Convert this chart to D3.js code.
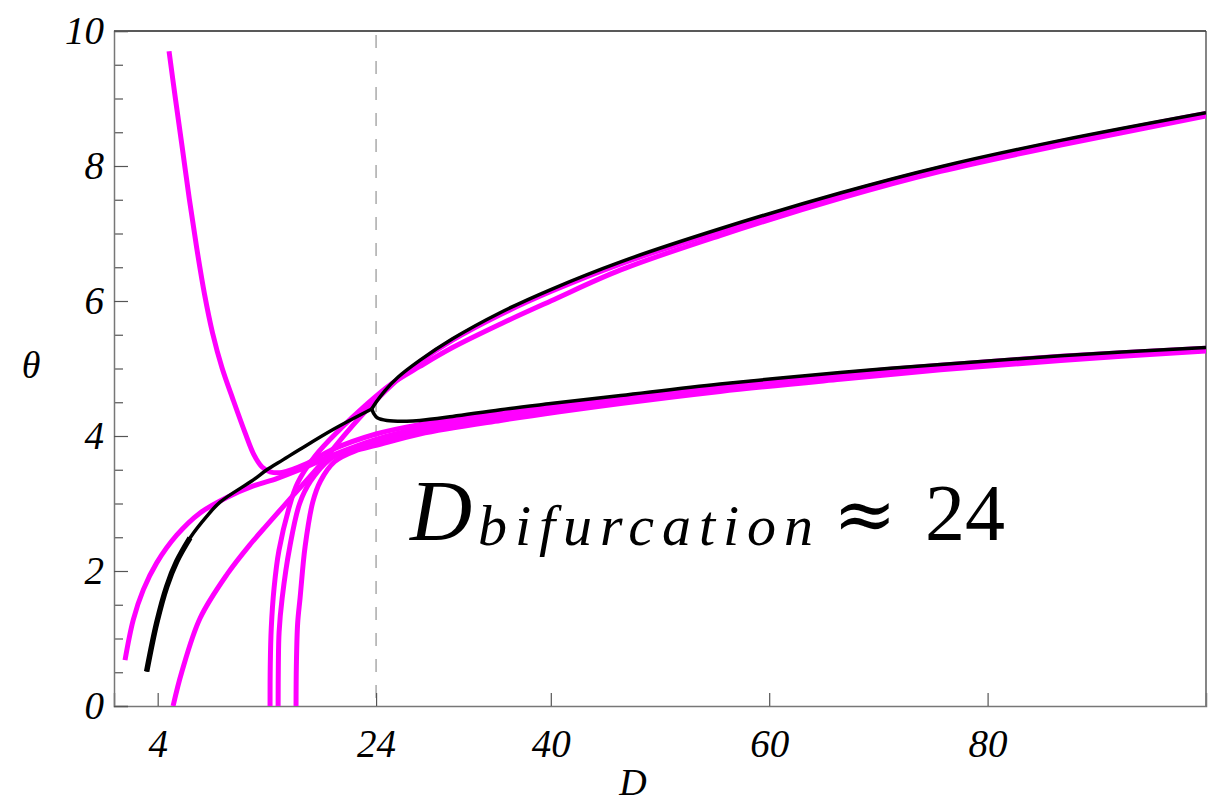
<!DOCTYPE html>
<html>
<head>
<meta charset="utf-8">
<script src="https://cdn.jsdelivr.net/npm/d3@7"></script>
<style>
body{margin:0;background:#fff;}
.axis .tick text{font-family:"Liberation Serif",serif;font-style:italic;font-size:39px;fill:#000;}
.axis .tick line{stroke:#555;stroke-width:1.2;}
.axis .domain{stroke:#777;stroke-width:1.5;}
.title{font-family:"Liberation Serif",serif;font-style:italic;font-size:38px;}
.magenta{fill:none;stroke:#ff00ff;stroke-width:5;stroke-linejoin:round;}
.black{fill:none;stroke:#000;stroke-width:3.5;stroke-linejoin:round;}
</style>
</head>
<body>
<script>
const WIDTH = 1216
const HEIGHT = 804
const MARGIN = {left:114, right:10, top:31, bottom:98}

const xTicks = [4, 24, 40, 60, 80]
const yTicks = [0, 2, 4, 6, 8, 10]
const bifurcationD = 24

// black solution: stem up to the cusp, then two branches
const blackStem = [[2.99,0.51],[3.91,1.23],[4.83,1.77],[5.74,2.14],[6.96,2.49],[8.49,2.81],[9.71,3.02],[12.76,3.35],[14,3.50],[15.5,3.65],[17,3.80],[20.1,4.10],[23.6,4.40]]
const blackUpper = [[23.6,4.40],[24.0,4.50],[24.8,4.67],[26.0,4.87],[28.0,5.12],[31,5.44],[35.4,5.83],[40,6.17],[46.4,6.58],[55.5,7.07],[66.5,7.60],[75.7,7.99],[86.7,8.38],[100,8.79]]
const blackLower = [[23.6,4.40],[23.8,4.33],[24.1,4.27],[25.0,4.23],[26.8,4.22],[28.0,4.23],[31,4.29],[35.4,4.39],[40,4.48],[46.4,4.60],[55.5,4.77],[66.5,4.94],[75.7,5.06],[86.7,5.19],[100,5.31]]

// magenta curves
const m1 = [[5.04,9.70],[5.63,8.99],[6.26,8.26],[6.90,7.51],[7.57,6.79],[8.29,6.10],[9.02,5.53],[9.89,5.01],[10.9,4.54],[12.0,4.05],[12.82,3.72],[13.56,3.54],[14.29,3.47],[15.39,3.46],[17.5,3.58],[20.0,3.80],[24,4.03],[28,4.17],[35.4,4.35],[46.4,4.57],[55.5,4.75],[66.5,4.92],[75.7,5.05],[86.7,5.18],[100,5.30]]
const m2 = [[1.01,0.68],[1.77,1.28],[2.68,1.72],[3.91,2.12],[5.74,2.53],[7.88,2.86],[10.33,3.09],[12.76,3.26],[14.9,3.37],[17.0,3.50],[20.1,3.72],[24,3.95],[28,4.11],[35.4,4.29],[46.4,4.53],[55.5,4.71],[66.5,4.88],[75.7,5.02],[86.7,5.15],[100,5.28]]
const m3 = [[5.41,0],[6.2,0.5],[7.88,1.30],[10.35,1.95],[12.5,2.40],[14.0,2.68],[16.4,3.12],[18.5,3.50],[21.3,4.05],[23.7,4.48],[26.0,4.84],[28,5.10],[31,5.42],[35.4,5.80],[40,6.14],[46.4,6.55],[55.5,7.04],[66.5,7.58],[75.7,7.97],[86.7,8.36],[100,8.78]]
const m4 = [[14.29,0],[14.31,0.6],[14.4,1.15],[14.66,1.75],[15.1,2.3],[16.0,2.92],[16.8,3.3],[18.4,3.7],[20.7,4.1],[23.0,4.45],[25.3,4.76],[28,5.03],[31,5.31],[35.4,5.66],[40,6.00],[46.4,6.46],[55.5,6.97],[66.5,7.52],[75.7,7.92],[86.7,8.31],[100,8.74]]
const m5 = [[15.03,0],[15.05,0.6],[15.12,1.1],[15.4,1.6],[16.1,2.36],[17.0,3.0],[18.0,3.33],[19.8,3.66],[21.6,3.80],[24,3.91],[28,4.07],[35.4,4.26],[46.4,4.50],[55.5,4.68],[66.5,4.86],[75.7,5.00],[86.7,5.14],[100,5.27]]
const m6 = [[16.67,0],[16.7,0.6],[16.82,1.23],[17.04,1.6],[17.5,2.36],[18.2,3.02],[18.9,3.33],[20.2,3.62],[22.1,3.78],[24,3.86],[28,4.03],[35.4,4.23],[46.4,4.48],[55.5,4.66],[66.5,4.84],[75.7,4.98],[86.7,5.12],[100,5.26]]
const magentaSeries = [m1, m2, m3, m4, m5, m6]

var x = d3.scaleLinear().domain([0, 100]).range([MARGIN.left, WIDTH - MARGIN.right])
var y = d3.scaleLinear().domain([0, 10]).range([HEIGHT - MARGIN.bottom, MARGIN.top])

var line = d3.line()
    .x(function(d){ return x(d[0]) })
    .y(function(d){ return y(d[1]) })
    .curve(d3.curveCatmullRom.alpha(0.5))

var createChart = function(){
    var svg = d3.select("body").append("svg")
        .attr("width", WIDTH)
        .attr("height", HEIGHT)

    svg.append("clipPath").attr("id", "plot")
        .append("rect")
        .attr("x", x(0)).attr("y", y(10))
        .attr("width", x(100) - x(0)).attr("height", y(0) - y(10))

    createFrame(svg)
    createAxes(svg)
    createCurves(svg)
    createLabels(svg)
}

var createFrame = function(svg){
    svg.append("line")
        .attr("x1", x(0)).attr("x2", x(100))
        .attr("y1", y(10)).attr("y2", y(10))
        .attr("stroke", "#222").attr("stroke-width", 1.3)
    svg.append("line")
        .attr("x1", x(100)).attr("x2", x(100))
        .attr("y1", y(10)).attr("y2", y(0))
        .attr("stroke", "#444").attr("stroke-width", 1.3)
    svg.append("line")
        .attr("x1", x(bifurcationD)).attr("x2", x(bifurcationD))
        .attr("y1", y(10) + 4).attr("y2", y(0))
        .attr("stroke", "#aaa").attr("stroke-width", 1.5)
        .attr("stroke-dasharray", "13,13")
}

var createAxes = function(svg){
    svg.append("g").classed("axis", true)
        .attr("transform", "translate(0," + y(0) + ")")
        .call(d3.axisBottom(x).tickValues(xTicks).tickSize(-13).tickPadding(12))
        .selectAll(".tick text").attr("dy", "1.0em")

    svg.append("g").classed("axis", true)
        .attr("transform", "translate(" + x(0) + ",0)")
        .call(d3.axisLeft(y).tickValues(d3.range(0.5, 10, 0.5).filter(function(v){ return v % 2 != 0 }))
            .tickSize(-9).tickFormat(""))
        .select(".domain").remove()

    svg.append("g").classed("axis", true)
        .attr("transform", "translate(" + x(0) + ",0)")
        .call(d3.axisLeft(y).tickValues(yTicks).tickSize(-14).tickPadding(10))
}

var createCurves = function(svg){
    var g = svg.append("g").attr("clip-path", "url(#plot)")

    g.selectAll(".magenta").data(magentaSeries).enter()
        .append("path")
        .classed("magenta", true)
        .attr("d", line)

    // lower part of the stem is drawn heavier
    g.append("path").classed("black", true)
        .attr("d", line(blackStem.filter(function(d){ return d[0] <= 7 })))
        .style("stroke-width", 5.5)
    g.selectAll(".branch").data([blackStem, blackUpper, blackLower]).enter()
        .append("path")
        .classed("black", true)
        .attr("d", line)
}

var createLabels = function(svg){
    svg.append("text").classed("title", true)
        .attr("x", 31).attr("y", 378)
        .attr("text-anchor", "middle")
        .text("θ")
    svg.append("text").classed("title", true)
        .attr("x", 633).attr("y", 795)
        .attr("text-anchor", "middle")
        .text("D")

    var serif = "'Liberation Serif', serif"
    svg.append("text")
        .attr("x", 410).attr("y", 540)
        .style("font-family", serif).style("font-style", "italic").style("font-size", "86px")
        .text("D")
    svg.append("text")
        .attr("x", 478).attr("y", 545)
        .attr("textLength", 335).attr("lengthAdjust", "spacing")
        .style("font-family", serif).style("font-style", "italic").style("font-size", "58px")
        .text("bifurcation")
    svg.append("text")
        .attr("x", 833).attr("y", 540)
        .style("font-family", "'DejaVu Serif', serif").style("font-size", "76px")
        .text("≈")
    svg.append("text")
        .attr("x", 925).attr("y", 540)
        .style("font-family", serif).style("font-size", "80px")
        .text("24")
}

createChart()
</script>
</body>
</html>
